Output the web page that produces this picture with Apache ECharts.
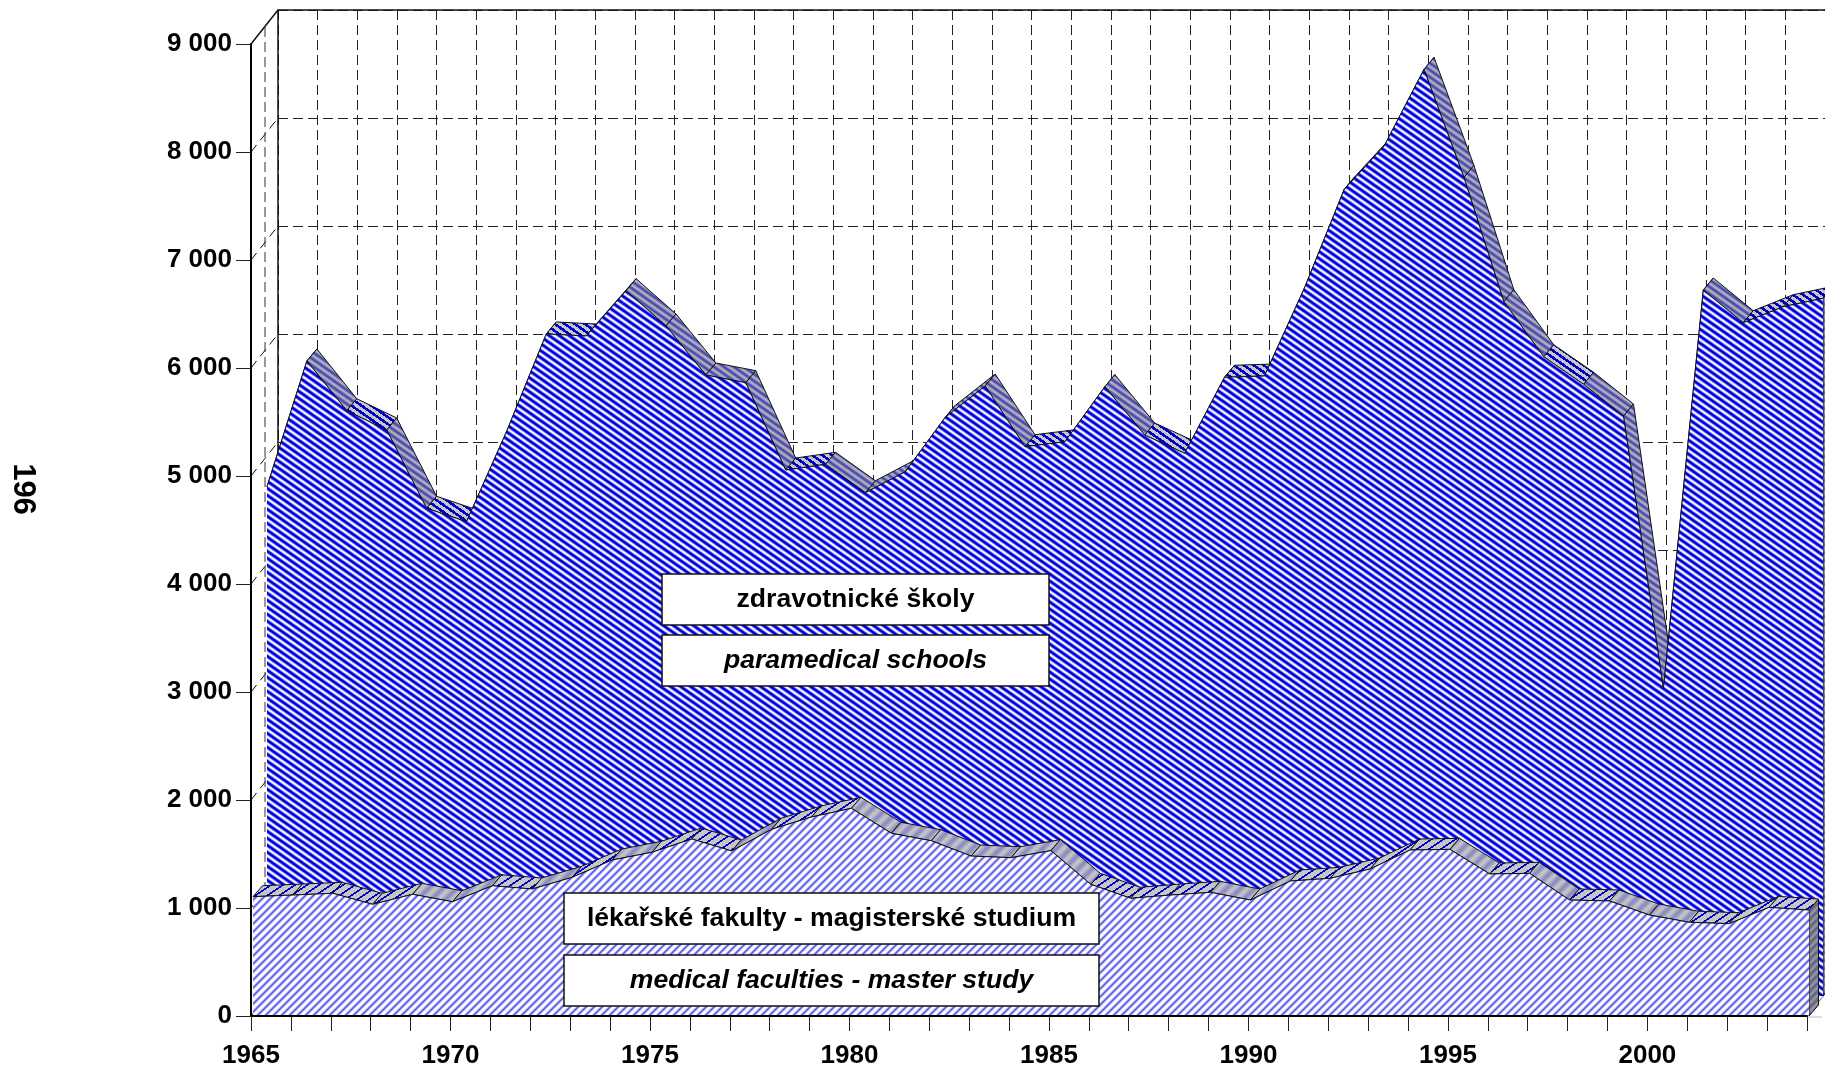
<!DOCTYPE html>
<html>
<head>
<meta charset="utf-8">
<style>
  html, body { margin: 0; padding: 0; background: #fff; overflow: hidden; }
  #chart { width: 1825px; height: 1071px; }
</style>
<script src="https://cdn.jsdelivr.net/npm/echarts@6/dist/echarts.min.js"></script>
</head>
<body>
<div id="chart"></div>
<script>
const years = ['1965','1966','1967','1968','1969','1970','1971','1972','1973','1974',
    '1975','1976','1977','1978','1979','1980','1981','1982','1983','1984',
    '1985','1986','1987','1988','1989','1990','1991','1992','1993','1994',
    '1995','1996','1997','1998','1999','2000','2001','2002','2003','2004'];
const medicalFaculties = [1105, 1120, 1136, 1034, 1127, 1058, 1206, 1176, 1284, 1444,
    1516, 1639, 1528, 1729, 1843, 1923, 1692, 1623, 1481, 1466,
    1531, 1219, 1090, 1120, 1145, 1074, 1250, 1275, 1361, 1537,
    1543, 1315, 1321, 1074, 1065, 935, 868, 855, 1006, 981];
const paramedicalSchools = [4716, 5880, 5419, 5241, 4516, 4392, 5222, 6130, 6111, 6531,
    6204, 5750, 5679, 4870, 4923, 4660, 4855, 5358, 5648, 5086,
    5132, 5642, 5194, 5025, 5729, 5741, 6553, 7469, 7870, 8580,
    7580, 6429, 5919, 5664, 5370, 2843, 6537, 6234, 6382, 6460];
const yTicks = [0, 1000, 2000, 3000, 4000, 5000, 6000, 7000, 8000, 9000];
const yTickLabels = ['0', '1 000', '2 000', '3 000', '4 000', '5 000', '6 000', '7 000', '8 000', '9 000'];

// ribbon segments (by starting year) that the original shades smooth instead of dotted
const frontSoft = ['1969','1970','1972','1974','1977','1980','1981','1982','1983','1984','1985','1989','1990','1995','1997','1999','2000'];
const rearSoft = ['1966','1968','1974','1975','1976','1977','1979','1980','1982','1983','1986','1994','1995','1996','1998','1999','2001'];

const FONT = '"Liberation Sans", Arial, sans-serif';
const DEPTH = [27, -34];        // front plane to back wall
const FRONT_RIBBON = [9.5, -11];
const REAR_RIBBON = [10, -12];

function frac(v) { return v - Math.floor(v); }
function mix(a, b, t) {
    return [0, 1, 2].map(k => a[k] + (b[k] - a[k]) * t);
}
// small repeating tile, colour chosen per pixel
function makeTile(w, h, pixel) {
    const c = document.createElement('canvas');
    c.width = w;
    c.height = h;
    const ctx = c.getContext('2d');
    const img = ctx.createImageData(w, h);
    for (let y = 0; y < h; y++) {
        for (let x = 0; x < w; x++) {
            const col = pixel(x, y);
            const o = (y * w + x) * 4;
            img.data[o] = col[0];
            img.data[o + 1] = col[1];
            img.data[o + 2] = col[2];
            img.data[o + 3] = 255;
        }
    }
    ctx.putImageData(img, 0, 0);
    return { image: c, repeat: 'repeat' };
}
const WHITE = [255, 255, 255], BLUE = [0, 0, 225], GREY = [198, 198, 198];

const rearFace = makeTile(10, 7, (x, y) => {
    const t = 0.5 + 0.5 * Math.cos(2 * Math.PI * (x / 10 - y / 7));
    return mix(WHITE, BLUE, Math.min(1, t * 1.15));
});
const frontFace = makeTile(8, 8, (x, y) => {
    const t = 0.5 + 0.5 * Math.cos(2 * Math.PI * (x / 8 + y / 8));
    return mix(WHITE, [70, 70, 235], t * t * 0.9);
});
const rearDots = makeTile(10, 7, (x, y) => frac(x / 10 - y / 7) < 0.45 ? [0, 0, 205] : GREY);
const frontDots = makeTile(12, 8, (x, y) => frac(x / 12 + y / 8) < 0.25 ? [0, 0, 205] : GREY);
const rearShade = makeTile(10, 7, (x, y) => {
    const t = 0.5 + 0.5 * Math.cos(2 * Math.PI * (x / 10 - y / 7));
    return mix([178, 178, 192], [72, 72, 172], t);
});
const frontShade = makeTile(14, 14, (x, y) => {
    const t = 0.5 + 0.5 * Math.cos(2 * Math.PI * (x / 14 + y / 14));
    return mix([196, 196, 200], [140, 140, 192], t);
});
const sideShade = makeTile(8, 8, (x, y) => {
    const t = 0.5 + 0.5 * Math.cos(2 * Math.PI * (x / 8 + y / 8));
    return mix([150, 150, 150], [100, 100, 135], t);
});

function shift(p, d) {
    return [p[0] + d[0], p[1] + d[1]];
}
// top surface of an area, one quad per year, plus the closing side at the right end
function ribbonItem(values, soft, dots, shade, depth) {
    return function (params, api) {
        const i = params.dataIndex;
        const a = api.coord([i, values[i]]);
        if (i === values.length - 1) {
            const base = api.coord([i, 0]);
            return {
                type: 'polygon',
                shape: { points: [a, shift(a, depth), shift(base, depth), base] },
                style: { fill: sideShade, stroke: '#111', lineWidth: 1 }
            };
        }
        const b = api.coord([i + 1, values[i + 1]]);
        return {
            type: 'polygon',
            shape: { points: [a, b, shift(b, depth), shift(a, depth)] },
            style: { fill: soft.indexOf(years[i]) >= 0 ? shade : dots, stroke: '#111', lineWidth: 1 }
        };
    };
}
// left wall: diagonals from the front axis to the back wall
function wallItem(params, api) {
    const v = yTicks[params.dataIndex];
    const p = api.coord([0, v]);
    const top = v === 9000;
    const children = [{
        type: 'line',
        shape: { x1: p[0], y1: p[1], x2: p[0] + DEPTH[0], y2: p[1] + DEPTH[1] },
        style: { stroke: '#111', lineWidth: top ? 1.5 : 1, lineDash: top ? null : [9, 6] }
    }];
    if (top) {
        const base = api.coord([0, 0]);
        const end = api.coord([years.length - 1, 0]);
        children.push({
            type: 'line',
            shape: { x1: p[0] + 14, y1: p[1] - 17, x2: base[0] + 14, y2: base[1] - 17 },
            style: { stroke: '#333', lineWidth: 1, lineDash: [10, 5] }
        }, {
            type: 'line',
            shape: { x1: p[0] + DEPTH[0], y1: p[1] + DEPTH[1], x2: 1825, y2: p[1] + DEPTH[1] },
            style: { stroke: '#111', lineWidth: 1.5 }
        }, {
            type: 'line',
            shape: { x1: end[0], y1: end[1], x2: end[0] + 18, y2: end[1] - 22 },
            style: { stroke: '#777', lineWidth: 1 }
        }, {
            type: 'line',
            shape: { x1: end[0], y1: end[1] + 1, x2: end[0] + 15, y2: end[1] + 1 },
            style: { stroke: '#bbb', lineWidth: 1 }
        });
    }
    return { type: 'group', children: children };
}

function pairs(values) {
    return values.map((v, i) => [i, v]);
}

const axisFont = { fontFamily: FONT, fontWeight: 'bold', fontSize: 26, color: '#000' };
const plotW = 1556, plotH = 972;

function hiddenX(idx) {
    return { gridIndex: idx, type: 'category', boundaryGap: false, data: years,
        axisLine: { show: false }, axisTick: { show: false }, axisLabel: { show: false }, splitLine: { show: false } };
}
function hiddenY(idx) {
    return { gridIndex: idx, type: 'value', min: 0, max: 9000, interval: 1000,
        axisLine: { show: false }, axisTick: { show: false }, axisLabel: { show: false }, splitLine: { show: false } };
}
const gridDash = { color: '#222', width: 1, type: [10, 5] };

function boxItems(x, y, w, h, label, italic) {
    return [{
        type: 'rect', z: 100,
        shape: { x: x, y: y, width: w, height: h },
        style: { fill: '#fff', stroke: '#111', lineWidth: 1.5 }
    }, {
        type: 'text', z: 101,
        x: x + w / 2, y: y + h / 2,
        style: {
            text: label, fill: '#000', align: 'center', verticalAlign: 'middle',
            font: (italic ? 'italic ' : '') + 'bold 26.6px ' + FONT
        }
    }];
}

const chart = echarts.init(document.getElementById('chart'));
chart.setOption({
    animation: false,
    backgroundColor: '#fff',
    grid: [
        { left: 251, top: 44, width: plotW, height: plotH },                      // axes
        { left: 253, top: 44, width: plotW, height: plotH },                      // front series
        { left: 267, top: 24, width: plotW, height: plotH },                      // rear series
        { left: 251 + DEPTH[0], top: 44 + DEPTH[1], width: plotW, height: plotH } // back wall
    ],
    xAxis: [
        {
            gridIndex: 0, type: 'category', boundaryGap: false, data: years, z: 10,
            axisLine: { lineStyle: { color: '#000', width: 2 } },
            axisTick: { show: true, interval: 0, length: 15, lineStyle: { color: '#222', width: 1 } },
            axisLabel: Object.assign({ interval: 4, margin: 27, showMinLabel: true }, axisFont),
            splitLine: { show: false }
        },
        hiddenX(1),
        hiddenX(2),
        Object.assign(hiddenX(3), { splitLine: { show: true, interval: 0, lineStyle: gridDash } })
    ],
    yAxis: [
        {
            gridIndex: 0, type: 'value', min: 0, max: 9000, interval: 1000, z: 10,
            axisLine: { show: true, lineStyle: { color: '#000', width: 2 } },
            axisTick: { show: true, length: 15, lineStyle: { color: '#222', width: 1 } },
            axisLabel: Object.assign({ margin: 19, formatter: v => yTickLabels[v / 1000] }, axisFont),
            splitLine: { show: false }
        },
        hiddenY(1),
        hiddenY(2),
        Object.assign(hiddenY(3), {
            axisLine: { show: true, onZero: false, lineStyle: { color: '#111', width: 1.5 } },
            splitLine: { show: true, lineStyle: gridDash }
        })
    ],
    series: [
        {
            type: 'custom', xAxisIndex: 0, yAxisIndex: 0, z: 1,
            data: yTicks.map(v => [0, v]), renderItem: wallItem, silent: true
        },
        {
            type: 'custom', xAxisIndex: 2, yAxisIndex: 2, z: 2,
            data: pairs(paramedicalSchools),
            renderItem: ribbonItem(paramedicalSchools, rearSoft, rearDots, rearShade, REAR_RIBBON), silent: true
        },
        {
            name: 'zdravotnické školy', type: 'line', xAxisIndex: 2, yAxisIndex: 2, z: 3,
            data: pairs(paramedicalSchools), symbol: 'none', smooth: false, clip: false,
            lineStyle: { color: '#111', width: 1 },
            areaStyle: { color: rearFace, opacity: 1 }
        },
        {
            type: 'custom', xAxisIndex: 1, yAxisIndex: 1, z: 4,
            data: pairs(medicalFaculties),
            renderItem: ribbonItem(medicalFaculties, frontSoft, frontDots, frontShade, FRONT_RIBBON), silent: true
        },
        {
            name: 'lékařské fakulty', type: 'line', xAxisIndex: 1, yAxisIndex: 1, z: 5,
            data: pairs(medicalFaculties), symbol: 'none', smooth: false, clip: false,
            lineStyle: { color: '#111', width: 1 },
            areaStyle: { color: frontFace, opacity: 1 }
        }
    ],
    graphic: [].concat(
        boxItems(662, 574, 387, 51, 'zdravotnické školy', false),
        boxItems(662, 635, 387, 51, 'paramedical schools', true),
        boxItems(564, 893, 535, 51, 'lékařské fakulty - magisterské studium', false),
        boxItems(564, 955, 535, 51, 'medical faculties - master study', true),
        [{
            type: 'text', z: 101, x: 23, y: 489, rotation: -Math.PI / 2,
            style: { text: '196', fill: '#000', align: 'center', verticalAlign: 'middle', font: 'bold 31px ' + FONT }
        }]
    )
});
</script>
</body>
</html>
